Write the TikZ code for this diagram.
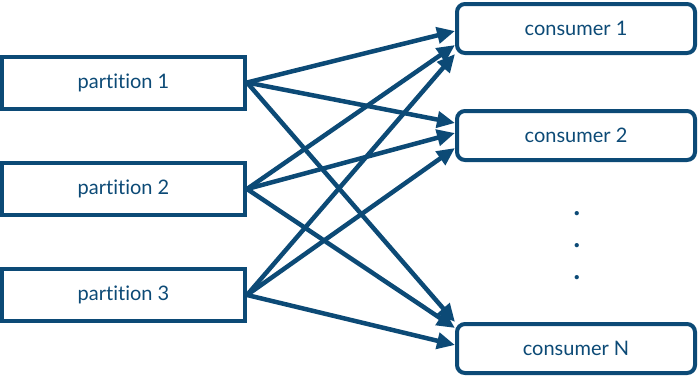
\documentclass[tikz,border=0pt]{standalone}
\usepackage{fontspec}
\setmainfont{Lato}[Ligatures=NoCommon]
\usetikzlibrary{arrows.meta,positioning}
\definecolor{kblue}{RGB}{12,74,118}

\begin{document}
\begin{tikzpicture}[x=1pt,y=-1pt,
  part/.style={draw=kblue,line width=4pt,minimum width=243pt,minimum height=52pt,text=kblue,font=\fontsize{20}{22}\selectfont},
  cons/.style={part,rounded corners=8pt,minimum width=238pt,minimum height=49pt},
  feed/.style={draw=kblue,line width=4.5pt,-{Triangle[length=18pt,width=16pt]}},
  vdot/.style={text=kblue,font=\fontsize{34}{36}\selectfont,anchor=base,inner sep=0pt}]
  \useasboundingbox (0,0) rectangle (700,378);
  \node[part] (p1) at (123.5,82.5) {partition 1}; \node[part] (p2) at (123.5,189) {partition 2}; \node[part] (p3) at (123.5,295) {partition 3};
  \node[cons] (c1) at (576,28.5) {consumer 1}; \node[cons] (c2) at (576,135.5) {consumer 2}; \node[cons] (cN) at (576,348.5) {consumer N};
  \foreach \s/\t/\d in {p1/c1/-2.5, p2/c1/-16.5, p3/c1/-25.5, p1/c2/12.5, p2/c2/2.5, p3/c2/-12.5, p1/cN/26.5, p2/cN/20.5, p3/cN/3.5}
    \draw[feed] (\s.east) -- ([yshift=\d pt]\t.west);
  \node[vdot] (d1) at (577,215) {.}; \node[vdot] (d2) at (577,247) {.}; \node[vdot] (d3) at (577,279) {.};
\end{tikzpicture}
\end{document}
